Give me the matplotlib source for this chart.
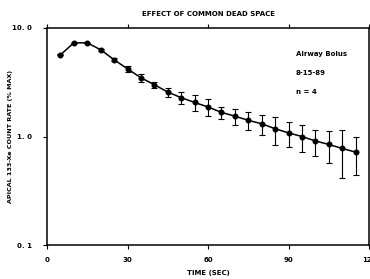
import matplotlib
matplotlib.use("Agg")
import matplotlib.pyplot as plt
import numpy as np

# Data (time in sec, count rate in % max)
time = [5, 10, 15, 20, 25, 30, 35, 40, 45, 50, 55, 60,
        65, 70, 75, 80, 85, 90, 95, 100, 105, 110, 115]
rate = [5.65, 7.3, 7.3, 6.3, 5.1, 4.2, 3.48, 3.0, 2.57, 2.28, 2.06, 1.87,
        1.67, 1.54, 1.41, 1.31, 1.18, 1.08, 1.0, 0.91, 0.845, 0.776, 0.718]
sd = [0.05, 0.05, 0.05, 0.1, 0.15, 0.25, 0.29, 0.21, 0.245, 0.3, 0.35, 0.33,
      0.21, 0.27, 0.27, 0.28, 0.345, 0.28, 0.285, 0.25, 0.28, 0.36, 0.28]

x_ticks = [0, 30, 60, 90, 120]
y_ticks = [0.1, 1.0, 10.0]
y_tick_labels = ["0. 1", "1. 0", "10. 0"]
notes = ["Airway Bolus", "8-15-89", "n = 4"]

plt.rcParams['font.family'] = ['DejaVu Sans']
plt.rcParams['font.weight'] = 'bold'

fig = plt.figure(figsize=(3.7, 2.79), dpi=100)
ax = fig.add_axes([47 / 370, 1 - 245 / 279, 322 / 370, 217 / 279])

ax.errorbar(time, rate, yerr=sd, color='black', lw=1.1, elinewidth=0.8,
            capsize=2.2, capthick=0.8, marker='o', markersize=3.3)

ax.set_yscale('log')
ax.set_ylim(0.1, 10.0)
ax.set_xlim(0, 120)
ax.set_xticks(x_ticks)
ax.set_xticklabels([str(t) for t in x_ticks], fontsize=5, fontweight='bold')
ax.set_yticks(y_ticks)
ax.set_yticklabels(y_tick_labels, fontsize=5, fontweight='bold')
ax.minorticks_off()
ax.tick_params(direction='out', length=3, width=0.8, pad=8)
ax.tick_params(axis='x', top=True, pad=6)
for s in ax.spines.values():
    s.set_linewidth(1.1)

ax.set_title("EFFECT OF COMMON DEAD SPACE", fontsize=5, fontweight='bold', pad=9)
ax.set_xlabel("TIME (SEC)", fontsize=5, fontweight='bold', labelpad=5)
ax.set_ylabel("APICAL 133-Xe COUNT RATE (% MAX)", fontsize=4.6, fontweight='bold')
ax.yaxis.set_label_coords((13 - 47) / 322, 0.5)

for i, t in enumerate(notes):
    ax.text(296 / 370, 1 - (54 + 19 * i) / 279, t, transform=fig.transFigure,
            fontsize=5, fontweight='bold', va='center', ha='left')

fig.savefig("out.png", dpi=100)
